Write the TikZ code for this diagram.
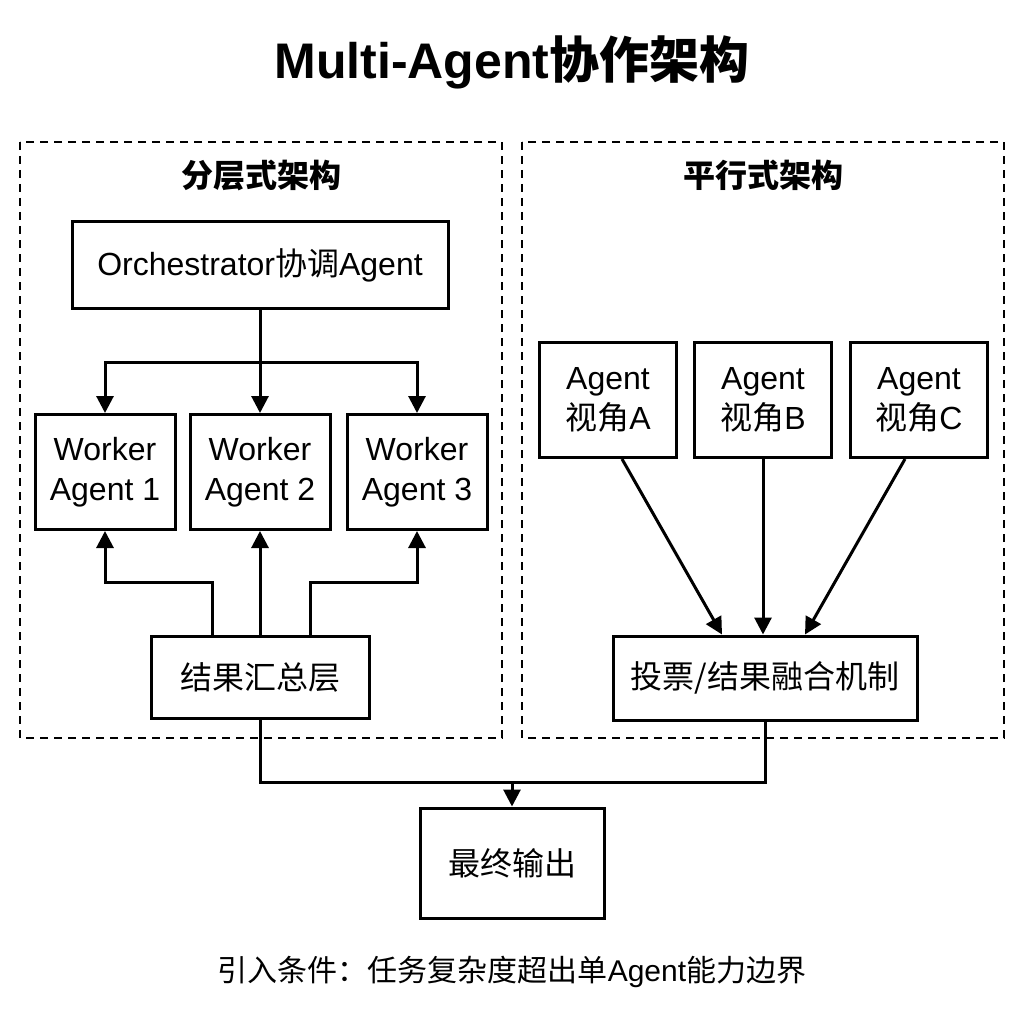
\documentclass[tikz,border=0pt]{standalone}
\usepackage{fontspec}
\setmainfont{Liberation Sans}
\newfontfamily\cjk{Noto Sans CJK SC}
\newcommand{\zh}[1]{{\cjk #1}}
\usepackage{tikz}
\usetikzlibrary{arrows.meta,positioning,calc}
\tikzset{
    box/.style={
        draw=black,
        fill=white,
        rectangle,
        align=center,
        line width=3pt,
        font=\fontsize{32}{40}\selectfont
    },
    frame/.style={
        draw=black,
        dashed,
        dash pattern=on 8pt off 6pt,
        line width=2pt
    },
    heading/.style={
        font=\fontsize{32}{38}\selectfont\bfseries
    },
    arrow/.style={
        -{Triangle[length=17pt,width=17pt]},
        line width=3pt
    },
    line/.style={
        line width=3pt
    }
}
\begin{document}
\begin{tikzpicture}[x=1pt,y=-1pt]
    \useasboundingbox (0,0) rectangle (1024,1024);
    % Title
    \node[font=\fontsize{50}{58}\selectfont\bfseries] (title) at (512,62) {Multi-Agent\zh{协作架构}};

    % Frames
    \draw[frame] (20,142) rectangle (502,738);
    \draw[frame] (522,142) rectangle (1004,738);
    \node[heading] (lefthead) at (261,175) {\zh{分层式架构}};
    \node[heading] (righthead) at (763,175) {\zh{平行式架构}};

    % Hierarchical
    \node[box, minimum width=376pt, minimum height=86pt] (orch) at (260,265) {Orchestrator\zh{协调}Agent};
    \node[box, minimum width=140pt, minimum height=115pt] (w1) at (105,472) {Worker\\Agent 1};
    \node[box, minimum width=140pt, minimum height=115pt] (w2) at (260,472) {Worker\\Agent 2};
    \node[box, minimum width=140pt, minimum height=115pt] (w3) at (417,472) {Worker\\Agent 3};
    \node[box, minimum width=218pt, minimum height=82pt] (merge) at (260,677) {\zh{结果汇总层}};

    % Parallel
    \node[box, minimum width=137pt, minimum height=115pt] (pa) at (608,400) {Agent\\\zh{视角}A};
    \node[box, minimum width=137pt, minimum height=115pt] (pb) at (763,400) {Agent\\\zh{视角}B};
    \node[box, minimum width=137pt, minimum height=115pt] (pc) at (919,400) {Agent\\\zh{视角}C};
    \node[box, minimum width=304pt, minimum height=84pt] (vote) at (765,678) {\zh{投票/结果融合机制}};

    % Output
    \node[box, minimum width=184pt, minimum height=110pt] (out) at (512,863) {\zh{最终输出}};
    \node[font=\fontsize{30}{36}\selectfont] (note) at (512,972) {\zh{引入条件：任务复杂度超出单}Agent\zh{能力边界}};

    % Connections
    \coordinate (split) at (260,362);
    \coordinate (join) at (512,782);
    \draw[line] (orch.south) -- (split);
    \draw[arrow] (split) -| (w1.north);
    \draw[arrow] (split) -- (w2.north);
    \draw[arrow] (split) -| (w3.north);
    \draw[arrow] ([xshift=-48pt]merge.north) |- (105,582) -- (w1.south);
    \draw[arrow] (merge.north) -- (w2.south);
    \draw[arrow] ([xshift=50pt]merge.north) |- (417,582) -- (w3.south);
    \draw[arrow] ([xshift=14pt]pa.south) -- ([xshift=-43pt]vote.north);
    \draw[arrow] (pb.south) -- ([xshift=-2pt]vote.north);
    \draw[arrow] ([xshift=-14pt]pc.south) -- ([xshift=40pt]vote.north);
    \draw[line] (merge.south) |- (join) -| (vote.south);
    \draw[arrow] (join) -- (out.north);
\end{tikzpicture}
\end{document}
